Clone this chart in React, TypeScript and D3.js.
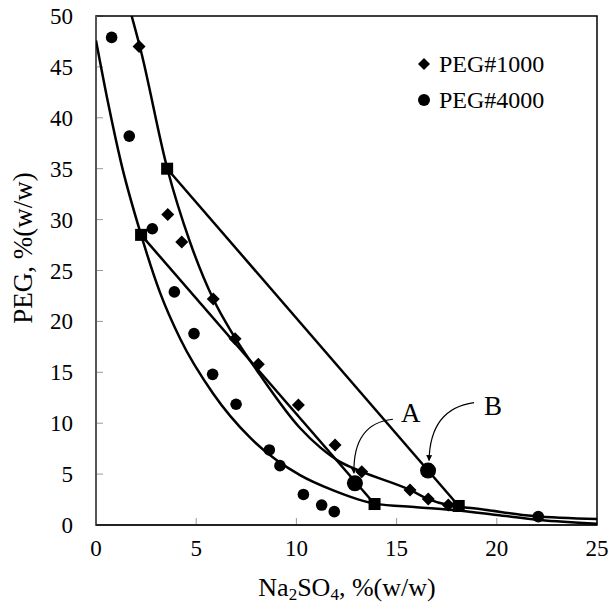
import React from "react";
import * as d3 from "d3";

// Axis ticks
const xTicks = [0, 5, 10, 15, 20, 25];
const yTicks = [0, 5, 10, 15, 20, 25, 30, 35, 40, 45, 50];

// Measured binodal data, PEG#1000
const peg1000X = [2.15, 3.58, 4.28, 5.85, 6.94, 8.1, 10.1, 11.93, 13.26, 15.67, 16.58, 17.58];
const peg1000Y = [47.0, 30.5, 27.8, 22.2, 18.3, 15.8, 11.8, 7.86, 5.24, 3.44, 2.55, 1.96];

// Measured binodal data, PEG#4000
const peg4000X = [0.78, 1.66, 2.81, 3.91, 4.89, 5.82, 6.99, 8.65, 9.18, 10.35, 11.26, 11.89, 22.07];
const peg4000Y = [47.9, 38.2, 29.1, 22.9, 18.8, 14.8, 11.86, 7.37, 5.83, 3.0, 1.96, 1.31, 0.82];

// Fitted binodal curve, PEG#1000
const fit1000X = [1.78, 2.2, 3.56, 4.69, 5.85, 6.84, 8.2, 10.18, 11.2, 12.18, 13.26, 15.67, 16.58, 17.58, 18.08, 18.83, 21.82, 25.0];
const fit1000Y = [50.0, 46.9, 35.0, 27.8, 22.2, 18.7, 14.7, 9.53, 7.6, 6.2, 5.24, 3.44, 2.55, 1.96, 1.79, 1.64, 0.88, 0.58];

// Fitted binodal curve, PEG#4000
const fit4000X = [0, 0.6, 1.25, 2.25, 3.2, 4.2, 5.85, 7.68, 10.18, 11.84, 13.9, 16.0, 17.83, 20.0, 22.16, 25.0];
const fit4000Y = [47.6, 41.5, 35.6, 28.5, 22.8, 18.3, 12.9, 8.6, 4.9, 3.4, 2.1, 1.75, 1.47, 0.98, 0.49, 0.12];

// Tie-line end points (top phase, bottom phase)
const tie1000X = [3.55, 18.1];
const tie1000Y = [35.0, 1.87];
const tie4000X = [2.25, 13.9];
const tie4000Y = [28.5, 2.06];

// Feed compositions
const feedLabels = ["A", "B"];
const feedX = [12.92, 16.57];
const feedY = [4.1, 5.35];

const legendNames = ["PEG#1000", "PEG#4000"];

const FONT = "'Liberation Serif', 'Times New Roman', serif";

export default function App() {
  const left = 96, right = 597, top = 16, bottom = 525;
  const x = d3.scaleLinear().domain([0, 25]).range([left, right]);
  const y = d3.scaleLinear().domain([0, 50]).range([bottom, top]);

  const line = d3
    .line<[number, number]>()
    .x((d) => x(d[0]))
    .y((d) => y(d[1]))
    .curve(d3.curveMonotoneX);
  const straight = d3
    .line<[number, number]>()
    .x((d) => x(d[0]))
    .y((d) => y(d[1]));

  const zip = (a: number[], b: number[]) => a.map((v, i) => [v, b[i]] as [number, number]);

  const diamond = (cx: number, cy: number, r: number) =>
    `M${cx},${cy - r}L${cx + r},${cy}L${cx},${cy + r}L${cx - r},${cy}Z`;

  const ax = x(feedX[0]);
  const ay = y(feedY[0]);
  const bx = x(feedX[1]);
  const by = y(feedY[1]);

  return (
    <svg width={608} height={606} style={{ position: "absolute", left: 0, top: 0, background: "#fff" }}>
      <defs>
        <marker id="ah" viewBox="0 0 10 10" refX="9" refY="5" markerWidth="5" markerHeight="5" orient="auto">
          <path d="M0,0L10,5L0,10Z" fill="#000" />
        </marker>
        <clipPath id="plot">
          <rect x={left} y={top} width={right - left} height={bottom - top} />
        </clipPath>
      </defs>
      <rect x={0} y={0} width={608} height={606} fill="#fff" />

      {/* ticks */}
      {yTicks.map((t) => (
        <line key={"yt" + t} x1={left} x2={left + 7} y1={y(t)} y2={y(t)} stroke="#999" strokeWidth={1} />
      ))}
      {xTicks.map((t) => (
        <line key={"xt" + t} x1={x(t)} x2={x(t)} y1={bottom} y2={bottom - 7} stroke="#999" strokeWidth={1} />
      ))}

      {/* frame */}
      <rect x={left} y={top} width={right - left} height={bottom - top} fill="none" stroke="#000" strokeWidth={1.5} />
      <line x1={left} x2={left} y1={top} y2={bottom} stroke="#555" strokeWidth={2} />
      <line x1={left} x2={right} y1={bottom} y2={bottom} stroke="#222" strokeWidth={2} />

      {/* tick labels */}
      {yTicks.map((t) => (
        <text key={"yl" + t} x={73} y={y(t) + 8} textAnchor="end" fontFamily={FONT} fontSize={23}>
          {t}
        </text>
      ))}
      {xTicks.map((t) => (
        <text key={"xl" + t} x={x(t)} y={556} textAnchor="middle" fontFamily={FONT} fontSize={23}>
          {t}
        </text>
      ))}

      {/* axis titles */}
      <text x={347} y={596} textAnchor="middle" fontFamily={FONT} fontSize={26}>
        Na<tspan fontSize={17} dy={4}>2</tspan>
        <tspan dy={-4}>SO</tspan>
        <tspan fontSize={17} dy={4}>4</tspan>
        <tspan dy={-4}>, %(w/w)</tspan>
      </text>
      <text
        transform={`translate(32,248) rotate(-90)`}
        textAnchor="middle"
        fontFamily={FONT}
        fontSize={27}
      >
        PEG, %(w/w)
      </text>

      <g clipPath="url(#plot)">
        {/* binodal curves */}
        <path d={line(zip(fit1000X, fit1000Y)) || ""} fill="none" stroke="#000" strokeWidth={2.5} />
        <path d={line(zip(fit4000X, fit4000Y)) || ""} fill="none" stroke="#000" strokeWidth={2.5} />
        {/* tie lines */}
        <path d={straight(zip(tie1000X, tie1000Y)) || ""} fill="none" stroke="#000" strokeWidth={2.5} />
        <path d={straight(zip(tie4000X, tie4000Y)) || ""} fill="none" stroke="#000" strokeWidth={2.5} />
      </g>

      {/* data markers */}
      {peg1000X.map((v, i) => (
        <path key={"d" + i} d={diamond(x(v), y(peg1000Y[i]), 6.5)} fill="#000" />
      ))}
      {peg4000X.map((v, i) => (
        <circle key={"c" + i} cx={x(v)} cy={y(peg4000Y[i])} r={5.8} fill="#000" />
      ))}
      {tie1000X.map((v, i) => (
        <rect key={"s1" + i} x={x(v) - 6} y={y(tie1000Y[i]) - 6} width={12} height={12} fill="#000" />
      ))}
      {tie4000X.map((v, i) => (
        <rect key={"s4" + i} x={x(v) - 6} y={y(tie4000Y[i]) - 6} width={12} height={12} fill="#000" />
      ))}
      {feedX.map((v, i) => (
        <circle key={"f" + i} cx={x(v)} cy={y(feedY[i])} r={8} fill="#000" />
      ))}

      {/* annotations */}
      <path
        d={`M${ax + 38},${ay - 64} Q${ax - 2},${ay - 60} ${ax - 1},${ay - 10}`}
        fill="none"
        stroke="#000"
        strokeWidth={1.2}
        markerEnd="url(#ah)"
      />
      <text x={ax + 46} y={ay - 61} fontFamily={FONT} fontSize={27}>
        {feedLabels[0]}
      </text>
      <path
        d={`M${bx + 46},${by - 68} Q${bx + 2},${by - 62} ${bx + 1},${by - 10}`}
        fill="none"
        stroke="#000"
        strokeWidth={1.2}
        markerEnd="url(#ah)"
      />
      <text x={bx + 56} y={by - 56} fontFamily={FONT} fontSize={27}>
        {feedLabels[1]}
      </text>

      {/* legend */}
      <path d={diamond(424, 64, 6)} fill="#000" />
      <text x={439} y={72} fontFamily={FONT} fontSize={24}>
        {legendNames[0]}
      </text>
      <circle cx={424} cy={100} r={6} fill="#000" />
      <text x={439} y={108} fontFamily={FONT} fontSize={24}>
        {legendNames[1]}
      </text>
    </svg>
  );
}
